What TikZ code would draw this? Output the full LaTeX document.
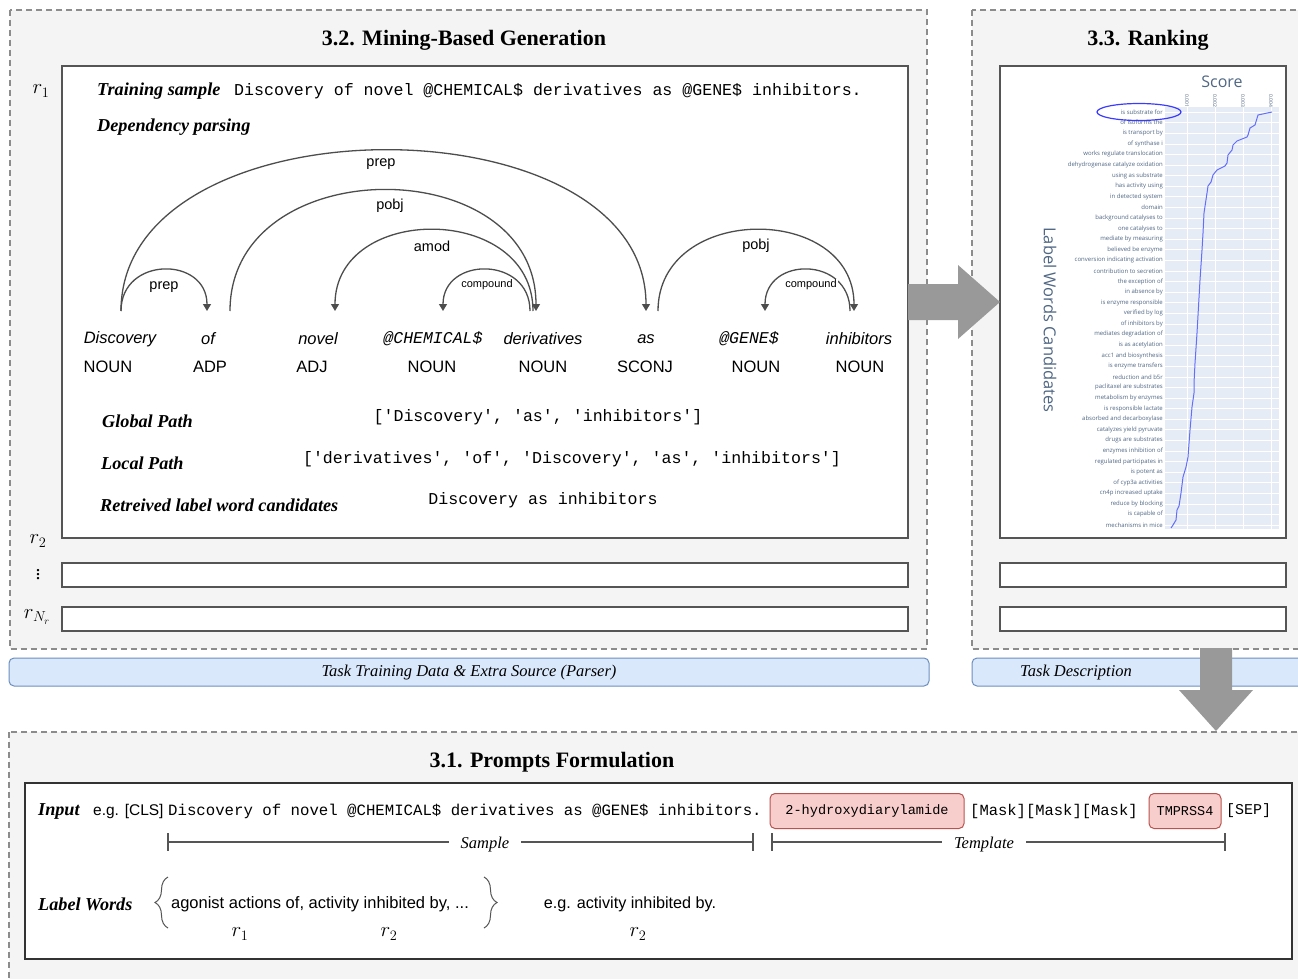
\documentclass[tikz,border=0pt]{standalone}
\usepackage{fontspec}
\setmainfont{Liberation Serif}
\setsansfont{Liberation Sans}
\setmonofont{Liberation Mono}
\newfontfamily\chartfont{Open Sans}
\usetikzlibrary{arrows.meta,decorations.pathreplacing,shapes.geometric}
\definecolor{panel}{HTML}{F4F4F4}
\definecolor{dashc}{HTML}{8C8C8C}
\definecolor{boxc}{HTML}{555555}
\definecolor{bluef}{HTML}{DAE8FC}
\definecolor{blued}{HTML}{6C8EBF}
\definecolor{pinkf}{HTML}{F8CECC}
\definecolor{pinkd}{HTML}{B85450}
\definecolor{arrowg}{HTML}{999999}
\definecolor{arcc}{HTML}{4D4D4D}
\definecolor{plotbg}{HTML}{E5ECF6}
\definecolor{plotline}{HTML}{636EFA}
\definecolor{plottxt}{HTML}{506784}
\definecolor{ellc}{HTML}{3B3BFF}
\newcommand{\fsz}[1]{\fontsize{#1}{#1}\selectfont}
\tikzset{
  dashbox/.style={draw=dashc, fill=panel, line width=1.5pt, dash pattern=on 6pt off 4pt},
  wbox/.style={draw=boxc, fill=white, line width=1.2pt},
  bar/.style={draw=blued, fill=bluef, line width=1pt, rounded corners=5pt},
  ttl/.style={font=\fsz{22}\bfseries, inner sep=0pt},
  lbl/.style={font=\fsz{18.2}\bfseries\itshape, anchor=west, inner sep=0pt},
  wd/.style={font=\fsz{16.5}\sffamily\itshape, inner sep=0pt},
  wdm/.style={font=\fsz{16.5}\ttfamily\itshape, inner sep=0pt},
  posl/.style={font=\fsz{16.5}\sffamily, inner sep=0pt},
  arcl/.style={font=\fsz{14.5}\sffamily, inner sep=1pt},
  cmpl/.style={font=\fsz{11}\sffamily, fill=white, inner sep=1pt},
  dep/.style={draw=arcc, line width=1.3pt},
  deparrow/.style={dep, -{Triangle[width=8pt,length=7pt]}},
  mono/.style={font=\fsz{16.6}\ttfamily, inner sep=0pt},
  rlab/.style={font=\fsz{20}, inner sep=0pt},
  bartxt/.style={font=\fsz{16.5}\itshape, inner sep=0pt},
  blockarrow/.style={fill=arrowg, draw=none},
  chartlbl/.style={font=\fsz{6}\chartfont, text=plottxt, anchor=east, inner sep=0pt},
  ticklbl/.style={font=\fsz{5}\chartfont, text=plottxt, rotate=-90, inner sep=0pt},
  pink/.style={draw=pinkd, fill=pinkf, line width=1pt, rounded corners=5pt, inner sep=0pt},
  brk/.style={draw=boxc, line width=1.1pt},
  segl/.style={font=\fsz{16.5}\itshape, fill=white, inner xsep=12pt, inner ysep=1pt},
}
\begin{document}
\begin{tikzpicture}[x=1pt,y=-1pt]
\useasboundingbox (0,0) rectangle (1298,979);
\clip (0,0) rectangle (1298,979);
\fill[white] (0,0) rectangle (1298,979);

% ---------- 3.2 panel ----------
\draw[dashbox] (10,10) rectangle (927,649);
\node[ttl] (t32) at (464,40) {3.2. Mining-Based Generation};
\draw[wbox] (62,66) rectangle (908,538);
\draw[wbox] (62,563) rectangle (908,587);
\draw[wbox] (62,607) rectangle (908,631);
\node[rlab] (r1) at (41,91) {$r_1$};
\node[rlab] (r2) at (38,541) {$r_2$};
\node[rlab] (rdots) at (38,572) {$\vdots$};
\node[rlab] (rN) at (37,617) {$r_{N_r}$};

\node[lbl] (tsl) at (97,91) {Training sample};
\node[mono, anchor=west] (tst) at (234,91) {Discovery of novel @CHEMICAL\$ derivatives as @GENE\$ inhibitors.};
\node[lbl] (dpl) at (97,127) {Dependency parsing};

% words
\node[wd] (w1) at (120,339) {Discovery};
\node[wd] (w2) at (208,339) {of};
\node[wd] (w3) at (318,339) {novel};
\node[wdm] (w4) at (433,339) {@CHEMICAL\$};
\node[wd] (w5) at (543,339) {derivatives};
\node[wd] (w6) at (646,339) {as};
\node[wdm] (w7) at (749,339) {@GENE\$};
\node[wd] (w8) at (859,339) {inhibitors};
\node[posl] (p1) at (108,367) {NOUN};
\node[posl] (p2) at (210,367) {ADP};
\node[posl] (p3) at (312,367) {ADJ};
\node[posl] (p4) at (432,367) {NOUN};
\node[posl] (p5) at (543,367) {NOUN};
\node[posl] (p6) at (645,367) {SCONJ};
\node[posl] (p7) at (756,367) {NOUN};
\node[posl] (p8) at (860,367) {NOUN};

% arc end points
\coordinate (aD) at (121,311);
\coordinate (aOf) at (207,311);
\coordinate (aOfS) at (230,311);
\coordinate (aNov) at (335,311);
\coordinate (aChem) at (443,311);
\coordinate (aDerIn) at (536,311);
\coordinate (aDerA) at (533,311);
\coordinate (aDerC) at (530,311);
\coordinate (aAs) at (646,311);
\coordinate (aAsS) at (658,311);
\coordinate (aGene) at (765,311);
\coordinate (aInh) at (854,311);
\coordinate (aInhS) at (850,311);

\draw[deparrow] (aD) .. controls (121,256) and (207,256) .. (aOf);
\draw[deparrow] (aD) .. controls (121,97) and (646,97) .. (aAs);
\draw[deparrow] (aOfS) .. controls (230,150) and (536,150) .. (aDerIn);
\draw[deparrow] (aDerA) .. controls (533,203) and (335,203) .. (aNov);
\draw[deparrow] (aDerC) .. controls (530,256) and (443,256) .. (aChem);
\draw[deparrow] (aAsS) .. controls (658,203) and (854,203) .. (aInh);
\draw[deparrow] (aInhS) .. controls (850,256) and (765,256) .. (aGene);

\node[arcl] (l1) at (164,287) {prep};
\node[arcl] (l2) at (381,164) {prep};
\node[arcl] (l3) at (390,206) {pobj};
\node[arcl] (l4) at (432,246) {amod};
\node[cmpl] (l5) at (487,285) {compound};
\node[arcl] (l6) at (756,246) {pobj};
\node[cmpl] (l7) at (811,285) {compound};

\node[lbl] (gpl) at (102,421) {Global Path};
\node[mono] (gpt) at (538,417) {['Discovery', 'as', 'inhibitors']};
\node[lbl] (lpl) at (101,463) {Local Path};
\node[mono] (lpt) at (572,459) {['derivatives', 'of', 'Discovery', 'as', 'inhibitors']};
\node[lbl] (rcl) at (100,505) {Retreived label word candidates};
\node[mono] (rct) at (543,500) {Discovery as inhibitors};

\draw[bar] (9,658) rectangle (929,686);
\node[bartxt] (b1) at (469,673) {Task Training Data \& Extra Source (Parser)};

% ---------- 3.3 panel ----------
\draw[dashbox] (972,10) rectangle (1320,649);
\node[ttl] (t33) at (1148,40) {3.3. Ranking};
\draw[wbox] (1000,66) rectangle (1286,538);
\draw[wbox] (1000,563) rectangle (1286,587);
\draw[wbox] (1000,607) rectangle (1286,631);

% chart
\fill[plotbg] (1165,107) rectangle (1279,529);
\foreach \gx in {1187,1215,1243,1271} \draw[white, line width=0.8pt] (\gx,107) -- (\gx,529);
\foreach \i in {1,...,40} \draw[white, line width=0.5pt] (1165,{112+(\i-1)*10.59}) -- (1279,{112+(\i-1)*10.59});
\node[ticklbl] (tk1) at (1187,101) {0.001};
\node[ticklbl] (tk2) at (1215,101) {0.002};
\node[ticklbl] (tk3) at (1243,101) {0.003};
\node[ticklbl] (tk4) at (1271,101) {0.004};
\node[font=\fsz{16}\chartfont, text=plottxt, inner sep=0pt] (score) at (1222,82) {Score};
\node[font=\fsz{16.5}\chartfont, text=plottxt, rotate=-90, inner sep=0pt] (lwc) at (1050,320) {Label Words Candidates};
\foreach \t [count=\i] in {is substrate for, of isoforms the, is transport by, of synthase i, works regulate translocation, dehydrogenase catalyze oxidation, using as substrate, has activity using, in detected system, domain, background catalyses to, one catalyses to, mediate by measuring, believed be enzyme, conversion indicating activation, contribution to secretion, the exception of, in absence by, is enzyme responsible, verified by log, of inhibitors by, mediates degradation of, is as acetylation, acc1 and biosynthesis, is enzyme transfers, reduction and b5r, paclitaxel are substrates, metabolism by enzymes, is responsible lactate, absorbed and decarboxylase, catalyzes yield pyruvate, drugs are substrates, enzymes inhibition of, regulated participates in, is potent as, of cyp3a activities, cn4p increased uptake, reduce by blocking, is capable of, mechanisms in mice}
  \node[chartlbl] (cl\i) at (1163,{112+(\i-1)*10.59}) {\t};
\draw[plotline, line width=1pt, line join=round] plot coordinates {(1272,112) (1258,115) (1255,125) (1250,128) (1248,135) (1247,137) (1237,141) (1233,145) (1232,150) (1228,155) (1227,163) (1225,166) (1217,170) (1213,175) (1211,182) (1208,186) (1207,193) (1204,213) (1203,233) (1202,250) (1200,280) (1197,333) (1195,363) (1194,383) (1194,393) (1192,407) (1190,430) (1188,457) (1186,467) (1183,477) (1181,493) (1179,506) (1177,510) (1176,520) (1173,525) (1171,528)};
\draw[ellc, line width=1.2pt] (1139,112) ellipse [x radius=42pt, y radius=8.5pt];

\draw[bar] (972,658) rectangle (1320,686);
\node[bartxt] (b2) at (1076,673) {Task Description};

% ---------- 3.1 panel ----------
\draw[dashbox] (9,732) rectangle (1320,1000);
\node[ttl] (t31) at (552,762) {3.1. Prompts Formulation};
\draw[draw=black!80, fill=white, line width=1.2pt] (25,783) rectangle (1292,959);

\node[lbl] (inl) at (38,811) {Input};
\node[font=\fsz{15.5}\sffamily, anchor=west, inner sep=0pt] (eg1) at (93,811) {e.g. [CLS]};
\node[font=\fsz{15.7}\ttfamily, anchor=west, inner sep=0pt] (inp) at (168,811) {Discovery of novel @CHEMICAL\$ derivatives as @GENE\$ inhibitors.};
\node[pink, minimum width=194pt, minimum height=35pt, font=\fsz{13.6}\ttfamily] (chem) at (867,811) {2-hydroxydiarylamide};
\node[font=\fsz{15.5}\ttfamily, anchor=west, inner sep=0pt] (mask) at (970,811) {[Mask][Mask][Mask]};
\node[pink, minimum width=72pt, minimum height=35pt, font=\fsz{13.5}\ttfamily] (gene) at (1185,811) {TMPRSS4};
\node[font=\fsz{15}\ttfamily, anchor=west, inner sep=0pt] (sep) at (1226,811) {[SEP]};

% Sample / Template brackets
\coordinate (sL) at (168,842);
\coordinate (sR) at (753,842);
\coordinate (tL) at (772,842);
\coordinate (tR) at (1225,842);
\node[segl] (samp) at (485,845) {Sample};
\node[segl] (tmpl) at (984,845) {Template};
\draw[brk] (sL) -- (samp.west |- sL);
\draw[brk] (samp.east |- sR) -- (sR);
\draw[brk] (tL) -- (tmpl.west |- tL);
\draw[brk] (tmpl.east |- tR) -- (tR);
\draw[brk] (168,833) -- (168,851);
\draw[brk] (753,833) -- (753,851);
\draw[brk] (772,833) -- (772,851);
\draw[brk] (1225,833) -- (1225,851);

\node[lbl] (lwl) at (38,904) {Label Words};
\draw[brk, line width=1pt, decorate, decoration={brace, amplitude=13pt}] (168,928) -- (168,877);
\draw[brk, line width=1pt, decorate, decoration={brace, amplitude=13pt}] (484,877) -- (484,928);
\node[font=\fsz{16.5}\sffamily, inner sep=0pt] (lwt) at (320,904) {agonist actions of, activity inhibited by, ...};
\node[rlab] (lr1) at (240,934) {$r_1$};
\node[rlab] (lr2) at (389,934) {$r_2$};
\node[font=\fsz{16.2}\sffamily, inner sep=0pt] (lweg) at (630,904) {e.g. activity inhibited by.};
\node[rlab] (lr3) at (638,934) {$r_2$};

% ---------- block arrows ----------
\fill[blockarrow] (908,284) -- (958,284) -- (958,265) -- (1000,302) -- (958,339) -- (958,320) -- (908,320) -- cycle;
\fill[blockarrow] (1200,648) -- (1232,648) -- (1232,690) -- (1253,690) -- (1216,731) -- (1179,690) -- (1200,690) -- cycle;
\end{tikzpicture}
\end{document}
